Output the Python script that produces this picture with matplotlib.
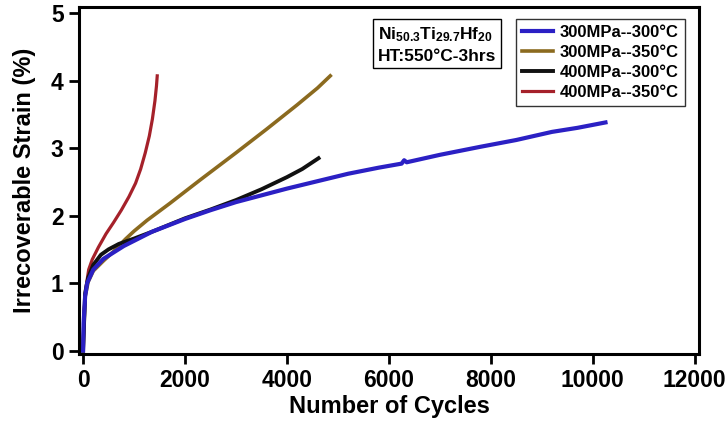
import matplotlib
matplotlib.use("Agg")
import matplotlib.pyplot as plt

plt.rcParams["font.family"] = ["Liberation Sans", "DejaVu Sans"]
plt.rcParams["font.weight"] = "bold"
plt.rcParams["mathtext.fontset"] = "custom"
plt.rcParams["mathtext.rm"] = "Liberation Sans:bold"
plt.rcParams["mathtext.default"] = "rm"

# irrecoverable strain (%) vs. number of cycles
cyc_300_300 = [0, 10, 40, 80, 200, 400, 800, 1350, 2000, 2500, 3000, 3500, 4000,
               4600, 5200, 5800, 6250, 6300, 6350, 7000, 7800, 8500, 9200, 9700, 10250]
eps_300_300 = [0, 0.4, 0.8, 1.0, 1.2, 1.36, 1.55, 1.76, 1.95, 2.08, 2.2, 2.3, 2.4,
               2.51, 2.62, 2.71, 2.77, 2.82, 2.79, 2.9, 3.02, 3.12, 3.24, 3.3, 3.38]

cyc_300_350 = [0, 40, 100, 200, 400, 600, 830, 1000, 1255, 1700, 2300, 3000, 3600,
               4200, 4600, 4850]
eps_300_350 = [0, 0.8, 1.02, 1.18, 1.33, 1.47, 1.65, 1.77, 1.93, 2.18, 2.53, 2.93, 3.28,
               3.64, 3.89, 4.07]

cyc_400_300 = [0, 40, 100, 200, 350, 500, 700, 1000, 1350, 2000, 2500, 3000, 3500,
               4000, 4300, 4620]
eps_400_300 = [0, 0.85, 1.08, 1.27, 1.42, 1.5, 1.58, 1.66, 1.76, 1.96, 2.09, 2.23, 2.39,
               2.57, 2.69, 2.85]

cyc_400_350 = [0, 20, 60, 110, 180, 300, 450, 600, 750, 900, 1030, 1130, 1220, 1300,
               1360, 1410, 1440, 1455]
eps_400_350 = [0, 0.6, 0.95, 1.2, 1.35, 1.53, 1.73, 1.9, 2.08, 2.28, 2.48, 2.69, 2.93,
               3.18, 3.43, 3.7, 3.92, 4.07]

x_ticks = [0, 2000, 4000, 6000, 8000, 10000, 12000]
y_ticks = [0, 1, 2, 3, 4, 5]

fig = plt.figure(figsize=(7.28, 4.32), dpi=100)
ax = fig.add_axes([79 / 728, 1 - 354 / 432, 620 / 728, 347 / 432])

l4, = ax.plot(cyc_400_350, eps_400_350, color="#a5212a", lw=2.3, label="400MPa--350°C")
l2, = ax.plot(cyc_300_350, eps_300_350, color="#8b6a1f", lw=2.6, label="300MPa--350°C")
l3, = ax.plot(cyc_400_300, eps_400_300, color="#111111", lw=2.8, label="400MPa--300°C")
l1, = ax.plot(cyc_300_300, eps_300_300, color="#2b20c4", lw=3.0, label="300MPa--300°C")

ax.set_xlim(-80, 12085)
ax.set_ylim(-0.05, 5.09)
ax.set_xticks(x_ticks)
ax.set_yticks(y_ticks)
ax.tick_params(direction="out", length=7, width=2, labelsize=16.5, pad=4)
for s in ax.spines.values():
    s.set_linewidth(2.2)

ax.set_xlabel("Number of Cycles", fontsize=17, fontweight="bold", labelpad=2)
ax.set_ylabel("Irrecoverable Strain (%)", fontsize=17, fontweight="bold", labelpad=11)

leg = ax.legend(handles=[l1, l2, l3, l4], loc="upper right",
                bbox_to_anchor=(0.977, 0.965), borderaxespad=0,
                fontsize=12, handlelength=1.9, handletextpad=0.4,
                labelspacing=0.3, borderpad=0.35, fancybox=False)
leg.get_frame().set_edgecolor("black")
leg.get_frame().set_linewidth(1.0)
for t in leg.get_texts():
    t.set_fontweight("bold")

ax.text(0.482, 0.948,
        "Ni$_{50.3}$Ti$_{29.7}$Hf$_{20}$\nHT:550°C-3hrs",
        transform=ax.transAxes, ha="left", va="top", fontsize=12.5,
        fontweight="bold", linespacing=1.45,
        bbox=dict(boxstyle="square,pad=0.25", facecolor="white",
                  edgecolor="black", linewidth=1.0))

fig.savefig("out.png", dpi=100)
